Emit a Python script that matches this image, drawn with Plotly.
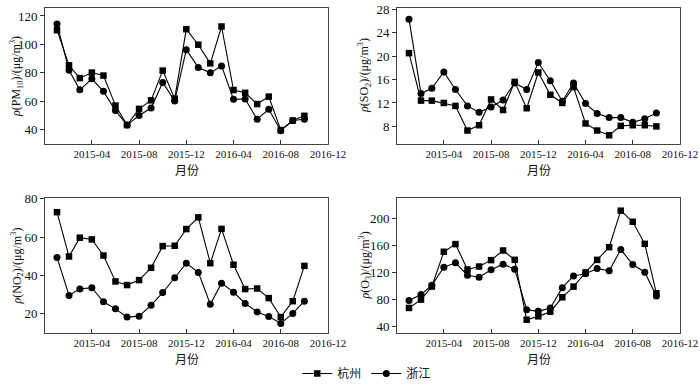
import plotly.graph_objects as go
from plotly.subplots import make_subplots

months = ["2015-01", "2015-02", "2015-03", "2015-04", "2015-05", "2015-06",
          "2015-07", "2015-08", "2015-09", "2015-10", "2015-11", "2015-12",
          "2016-01", "2016-02", "2016-03", "2016-04", "2016-05", "2016-06",
          "2016-07", "2016-08", "2016-09", "2016-10"]
tick_labels = ["2015-04", "2015-08", "2015-12", "2016-04", "2016-08", "2016-12"]

pm10_hz = [110, 85.3, 76.3, 80.2, 78.1, 57, 43.3, 54.7, 60.7, 81.6, 61.9, 110.7,
           99.8, 86.7, 112.6, 67.9, 66, 58.1, 63.3, 39.8, 46.5, 49.8]
pm10_zj = [114.4, 81.9, 68.1, 75.8, 67, 53.5, 43.3, 50, 55.3, 73.3, 60.2, 96.3,
           83.7, 80, 84.9, 61.4, 61.6, 47.4, 54.4, 39.3, 46.5, 47.4]

so2_hz = [20.5, 12.4, 12.4, 12.0, 11.5, 7.3, 8.2, 12.6, 10.8, 15.6, 11.1, 17.2,
          13.4, 12.0, 14.7, 8.5, 7.3, 6.5, 8.1, 8.2, 8.2, 8.0]
so2_zj = [26.3, 13.6, 14.5, 17.3, 14.3, 11.5, 10.4, 11.3, 12.5, 15.4, 14.3, 18.9,
          15.8, 12.3, 15.4, 11.9, 10.2, 9.5, 9.5, 8.7, 9.3, 10.3]

no2_hz = [73.0, 49.9, 59.7, 58.8, 50.4, 36.9, 35.0, 37.6, 44.0, 55.3, 55.5, 64.2,
          70.3, 46.4, 64.3, 45.6, 32.9, 33.2, 28.2, 18.3, 26.6, 45.0]
no2_zj = [49.4, 29.6, 33.0, 33.6, 26.3, 22.6, 18.3, 18.8, 24.5, 31.1, 38.8, 46.4,
          41.6, 25.0, 36.0, 31.3, 25.4, 21.0, 18.6, 15.0, 20.2, 26.6]

o3_hz = [67.6, 79.9, 99.1, 150.3, 161.6, 124.2, 128.6, 138.0, 152.2, 138.5, 50.3, 55.2,
         62.1, 83.3, 99.0, 120.0, 138.4, 157.1, 210.8, 194.5, 162.0, 89.2]
o3_zj = [78.4, 87.3, 101.0, 127.6, 134.0, 115.8, 112.8, 123.7, 132.1, 124.7, 65.1, 62.6,
         67.5, 97.5, 114.8, 118.0, 125.6, 122.2, 153.6, 131.5, 120.2, 85.2]

series_names = ["杭州", "浙江"]
y_titles = ["<i>ρ</i>(PM<sub>10</sub>)/(μg/m<sup>3</sup>)",
            "<i>ρ</i>(SO<sub>2</sub>)/(μg/m<sup>3</sup>)",
            "<i>ρ</i>(NO<sub>2</sub>)/(μg/m<sup>3</sup>)",
            "<i>ρ</i>(O<sub>3</sub>)/(μg/m<sup>3</sup>)"]
x_title = "月份"
y_ranges = [[30, 125.6], [5, 28.2], [10, 80.4], [30.7, 229.5]]
y_dticks = [20, 4, 20, 40]
y_tick0 = [40, 8, 20, 40]

panels = [(pm10_hz, pm10_zj), (so2_hz, so2_zj), (no2_hz, no2_zj), (o3_hz, o3_zj)]

fig = make_subplots(rows=2, cols=2)

serif = "Liberation Serif, Times New Roman, serif"
cjk = "Noto Sans CJK SC"

for i, (hz, zj) in enumerate(panels):
    r, c = i // 2 + 1, i % 2 + 1
    fig.add_trace(go.Scatter(x=months, y=hz, mode="lines+markers", name=series_names[0],
                             line=dict(color="black", width=1.1),
                             marker=dict(symbol="square", size=6.5, color="black"),
                             showlegend=(i == 0), legendgroup="hz"), row=r, col=c)
    fig.add_trace(go.Scatter(x=months, y=zj, mode="lines+markers", name=series_names[1],
                             line=dict(color="black", width=1.1),
                             marker=dict(symbol="circle", size=7, color="black"),
                             showlegend=(i == 0), legendgroup="zj"), row=r, col=c)

xdom = [[45 / 700, 328 / 700], [397 / 700, 680 / 700]]
ydom = [[(388 - 144) / 388, (388 - 8) / 388], [(388 - 333) / 388, (388 - 198) / 388]]
ytitle_off = [28, 32]

for i in range(4):
    r, c = i // 2, i % 2
    xa = "xaxis" if i == 0 else f"xaxis{i+1}"
    ya = "yaxis" if i == 0 else f"yaxis{i+1}"
    fig.layout[xa].update(domain=xdom[c], type="date",
                          range=["2014-12-01", "2016-12-01"],
                          tickvals=[t + "-01" for t in tick_labels], ticktext=tick_labels,
                          ticks="inside", ticklen=4, tickcolor="#333",
                          ticklabeloverflow="allow",
                          showline=True, linecolor="#444", linewidth=1, mirror=True,
                          showgrid=False, zeroline=False, automargin=False,
                          tickfont=dict(family=serif, size=11, color="#111"))
    fig.layout[ya].update(domain=ydom[r], range=y_ranges[i],
                          tick0=y_tick0[i], dtick=y_dticks[i],
                          ticks="outside", ticklen=4, tickcolor="#333",
                          showline=True, linecolor="#444", linewidth=1, mirror=True,
                          showgrid=False, zeroline=False, automargin=False,
                          tickfont=dict(family=serif, size=13, color="#111"))
    # x-axis title
    fig.add_annotation(text=x_title, xref="paper", yref="paper",
                       x=(xdom[c][0] + xdom[c][1]) / 2,
                       y=ydom[r][0] - 25 / 388, xanchor="center", yanchor="middle",
                       showarrow=False, font=dict(family=cjk, size=12, color="#111"))
    # y-axis title
    fig.add_annotation(text=y_titles[i], xref="paper", yref="paper",
                       x=xdom[c][0] - ytitle_off[c] / 700, y=(ydom[r][0] + ydom[r][1]) / 2,
                       xanchor="center", yanchor="middle", textangle=-90,
                       showarrow=False, font=dict(family=serif, size=12, color="#111"))

fig.update_layout(width=700, height=388, margin=dict(l=0, r=0, t=0, b=0, autoexpand=False),
                  plot_bgcolor="white", paper_bgcolor="white",
                  legend=dict(orientation="h", x=0.524, y=0, xanchor="center",
                              yanchor="bottom", font=dict(family=cjk, size=12, color="#111"),
                              itemwidth=30, tracegroupgap=0))

fig.write_html("out.html", config={"displayModeBar": False},
               post_script="document.body.style.margin='0';document.body.style.overflow='hidden';")
